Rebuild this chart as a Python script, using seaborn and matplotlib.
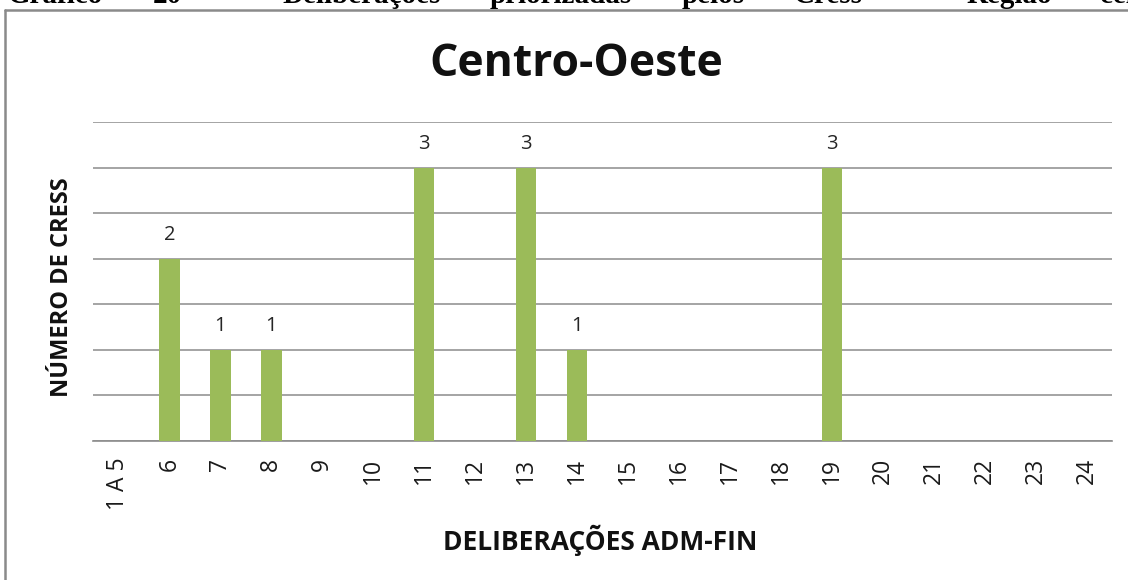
import matplotlib
matplotlib.use("Agg")
import matplotlib.pyplot as plt
import seaborn as sns
import numpy as np
from matplotlib.lines import Line2D

categories = ["1 A 5", "6", "7", "8", "9", "10", "11", "12", "13", "14", "15",
              "16", "17", "18", "19", "20", "21", "22", "23", "24"]
values = [0, 2, 1, 1, 0, 0, 3, 0, 3, 1, 0, 0, 0, 0, 3, 0, 0, 0, 0, 0]

title = "Centro-Oeste"
xlabel = "DELIBERAÇÕES ADM-FIN"
ylabel = "NÚMERO DE CRESS"
caption_words = ["Gráfico", "20", "–", "Deliberações", "priorizadas", "pelos", "Cress", "–", "Região", "cen"]
caption_x = [8, 153, 200, 282, 490, 682, 794, 910, 967, 1100]

sns.set_theme(style="white")
plt.rcParams['font.family'] = ['Open Sans', 'DejaVu Sans']

W, H = 1128, 580
fig = plt.figure(figsize=(W / 100, H / 100), dpi=100)
fig.patch.set_facecolor("white")

ax = fig.add_axes([93 / W, 1 - 441 / H, (1112 - 93) / W, (441 - 122) / H])
sns.barplot(x=categories, y=values, color="#9BBB59", width=0.4, saturation=1,
            linewidth=0, edgecolor="none", ax=ax, zorder=3)

ax.set_ylim(0, 3.5)
ax.set_yticks(np.arange(0, 3.51, 0.5))
ax.set_yticklabels([])
ax.tick_params(axis="y", length=0)
ax.grid(axis="y", color="#8c8c8c", linewidth=1.1, zorder=0)
ax.set_axisbelow(True)
for s in ["top", "right", "left"]:
    ax.spines[s].set_visible(False)
ax.spines["bottom"].set_color("#8c8c8c")
ax.spines["bottom"].set_linewidth(1.2)
ax.set_xlim(-0.5, len(categories) - 0.5)

ax.tick_params(axis="x", length=0, pad=12)
for lbl in ax.get_xticklabels():
    lbl.set_rotation(90)
    lbl.set_fontsize(16.5)
    lbl.set_color("#1a1a1a")
    lbl.set_va("top")

for c in ax.containers:
    labels = [str(v) if v > 0 else "" for v in values]
    ax.bar_label(c, labels=labels, padding=10, fontsize=14.5, color="#262626")

ax.set_xlabel("")
ax.set_ylabel("")
fig.text(600 / W, 1 - 540 / H, xlabel, ha="center", va="center", fontsize=19, fontweight="bold", color="#111111")
fig.text(62 / W, 1 - 287 / H, ylabel, ha="center", va="center", rotation=90, fontsize=17, fontweight="bold", color="#111111")
fig.text(576 / W, 1 - 65 / H, title, ha="center", va="center", fontsize=32, fontweight="bold", color="#111111")

# chart frame
fig.add_artist(Line2D([5 / W, 5 / W], [0, 1 - 10 / H], transform=fig.transFigure, color="#8a8a8a", linewidth=1.8))
fig.add_artist(Line2D([5 / W, 1], [1 - 10 / H, 1 - 10 / H], transform=fig.transFigure, color="#8a8a8a", linewidth=1.8))

# document caption (cut off at top edge, as in the reference)
for w, x in zip(caption_words, caption_x):
    fig.text(x / W, 1 - 3 / H, w, ha="left", va="baseline", fontsize=21,
             fontweight="bold", family=["Liberation Serif", "DejaVu Serif"], color="black")

fig.savefig("out.png", dpi=100)
